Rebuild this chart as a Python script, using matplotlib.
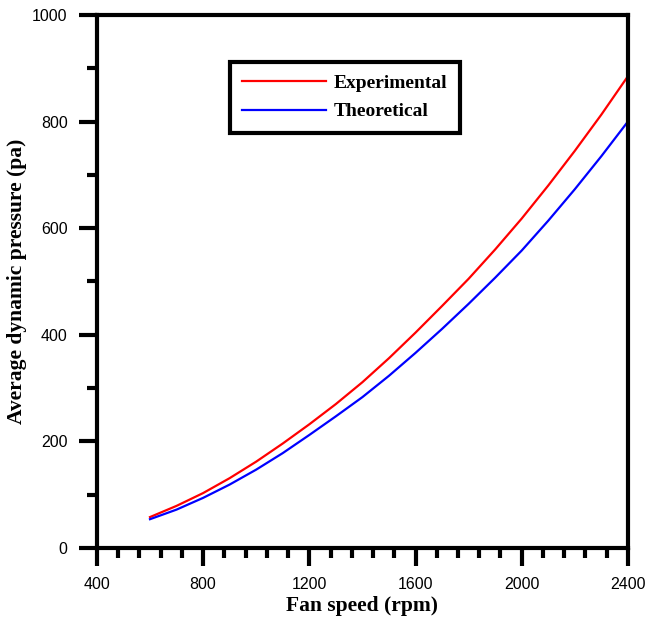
import numpy as np
import matplotlib.pyplot as plt
from matplotlib.ticker import MultipleLocator

# fan speed (rpm) and pressure (pa)
speed = [600, 700, 800, 900, 1000, 1100, 1200, 1300, 1400, 1500,
         1600, 1700, 1800, 1900, 2000, 2100, 2200, 2300, 2400]
experimental = [58, 79, 103, 131, 162, 196, 232, 270, 311, 356,
                404, 454, 505, 560, 618, 680, 745, 813, 885]
theoretical = [54, 72, 94, 119, 147, 178, 212, 247, 283, 323,
               366, 411, 458, 507, 558, 614, 673, 735, 800]

fig = plt.figure(figsize=(6.46, 6.22), dpi=100)
ax = fig.add_axes([0.150, 0.119, 0.822, 0.857])

ax.plot(speed, experimental, color='red', lw=1.6, label='Experimental')
ax.plot(speed, theoretical, color='blue', lw=1.6, label='Theoretical')

ax.set_xlim(400, 2400)
ax.set_ylim(0, 1000)
ax.xaxis.set_major_locator(MultipleLocator(400))
ax.xaxis.set_minor_locator(MultipleLocator(80))
ax.yaxis.set_major_locator(MultipleLocator(200))
ax.yaxis.set_minor_locator(MultipleLocator(100))

for s in ax.spines.values():
    s.set_linewidth(3)
ax.tick_params(which='major', direction='out', length=13, width=3, pad=8)
ax.tick_params(which='minor', direction='out', length=7, width=3)
for lab in ax.get_xticklabels() + ax.get_yticklabels():
    lab.set_fontfamily('Liberation Sans')
    lab.set_fontsize(11.5)

ax.set_xlabel('Fan speed (rpm)', fontfamily='Liberation Serif', fontweight='bold', fontsize=15.5, labelpad=3)
ax.set_ylabel('Average dynamic pressure (pa)', fontfamily='Liberation Serif', fontweight='bold', fontsize=15.5, labelpad=4)

leg = ax.legend(loc='upper left', bbox_to_anchor=(0.25, 0.912), borderaxespad=0,
                fancybox=False, framealpha=1, edgecolor='black',
                prop={'family': 'Liberation Serif', 'weight': 'bold', 'size': 14},
                handlelength=4.3, handletextpad=0.4, borderpad=0.65, labelspacing=0.55)
leg.get_frame().set_linewidth(3)

fig.savefig('out.png', dpi=100)
